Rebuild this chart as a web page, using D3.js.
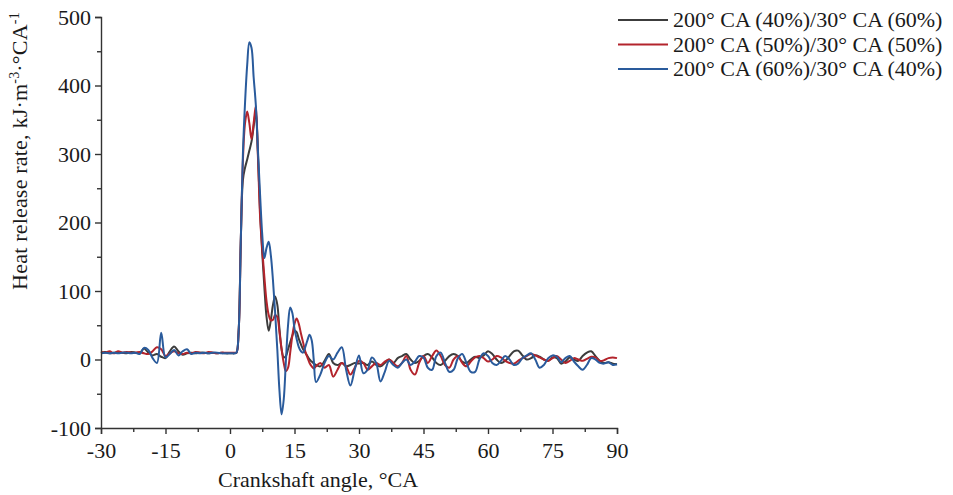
<!DOCTYPE html>
<html>
<head>
<meta charset="utf-8">
<script src="https://cdn.jsdelivr.net/npm/d3@7"></script>
<style>
  body { margin: 0; background: #fff; }
  svg text { font-family: "Liberation Serif", "Times New Roman", serif; fill: #1a1a1a; }
</style>
</head>
<body>
<div id="chart"></div>
<script>
// sampling grid (°CA): 1° steps, 0.5° steps through combustion
const angles = [].concat(d3.range(-30, 0.5, 1), d3.range(0.5, 20.25, 0.5), d3.range(21, 90.5, 1));

const seriesNames = ['200° CA (40%)/30° CA (60%)', '200° CA (50%)/30° CA (50%)', '200° CA (60%)/30° CA (40%)'];
const seriesColors = ['#3c3c3c', '#b3242c', '#2a5b9c'];

// heat release rate, kJ·m-3·°CA-1
const hrr40 = [
  10, 11, 9, 10, 11, 10, 9, 11, 10, 9, 16, 10, 6, 8, 4, 2, 12, 19, 12, 7, 9, 10, 9, 10, 10, 9, 10, 9, 10, 9, 9,
  9, 9, 10, 40, 170, 262, 280, 292, 305, 318, 340, 362, 300, 215, 155, 105, 62, 42, 58, 80,
  92, 80, 45, 15, 3, 5, 15, 25, 35, 42, 40, 30, 22, 15, 10, 5, 0, -3, -6, -8,
  -10, -2, 8, -5, -8, -5, -10, -8, -5, -6, -5, -8, -3, -8, -10, -5, 0, -5, 2, 5,
  8, 0, -5, -2, 5, 8, 3, -5, -8, -2, 5, 8, 5, -3, -5, 0, 4, 2, 6, 12,
  8, 0, -5, -2, 5, 12, 13, 6, 0, 2, 6, 4, 0, -2, 3, 2, -6, -3, 3, 0,
  -2, 5, 10, 12, 5, -2, -5, -4, -6, -7
];
const hrr50 = [
  11, 10, 12, 9, 12, 10, 11, 10, 10, 11, 9, 8, 12, 18, 15, 5, 9, 12, 9, 8, 10, 9, 11, 10, 9, 11, 10, 9, 10, 10, 10,
  10, 10, 10, 40, 170, 290, 345, 362, 345, 322, 345, 370, 295, 208, 160, 120, 85, 65, 57, 58,
  65, 62, 40, 15, -5, -17, -12, 10, 35, 52, 60, 52, 38, 25, 12, 3, -5, -10, -13, -10,
  -5, -12, -8, -25, -15, -5, -10, -22, -12, -2, -5, -15, -10, -5, -8, -3, 0, -5, -10, -5,
  5, -15, -22, -5, 5, -5, 5, 13, 5, -8, -12, 0, 5, -5, -10, -3, 3, 5, 2, -3,
  0, 5, 3, -2, -5, -6, -2, 2, 5, 8, 6, 3, 0, -2, 2, 5, 0, -5, -2, 2,
  0, -2, 1, 4, 3, -2, -1, 2, 3, 2
];
const hrr60 = [
  9, 10, 9, 10, 9, 10, 10, 9, 10, 8, 17, 14, 2, -5, 39, 3, 8, 14, 6, 12, 15, 8, 10, 9, 10, 9, 10, 10, 9, 9, 9,
  9, 9, 10, 40, 170, 300, 375, 430, 463, 455, 412, 372, 305, 240, 182, 148, 163, 172, 152, 115,
  68, 15, -45, -80, -58, -2, 50, 76, 68, 45, 30, 18, 12, 10, 18, 28, 36, 28, -2, -33,
  -22, -5, 5, 0, 10, 18, -15, -38, -15, 6, -20, -15, 3, -5, -32, -18, -2, -8, -12, -5,
  0, -8, -3, 5, 3, -12, -15, 5, 10, -5, -18, -15, 2, 8, -5, -18, -18, 0, 9, 5,
  -5, -8, -2, 5, 0, -8, -6, 2, 6, 9, 0, -12, -8, 2, 6, 4, -4, 2, 5, -3,
  -10, -15, -8, 2, 0, -5, -6, -4, -8, -7
];
const seriesValues = [hrr40, hrr50, hrr60];

const xTicks = [-30, -15, 0, 15, 30, 45, 60, 75, 90];
const yTicks = [-100, 0, 100, 200, 300, 400, 500];

const W = 953, H = 495;
const svg = d3.select('#chart').append('svg').attr('width', W).attr('height', H);

const x = d3.scaleLinear().domain([-30, 90]).range([101, 617]);
const y = d3.scaleLinear().domain([-100, 500]).range([428, 17]);

// Lines
const line = d3.line().x(d => x(d[0])).y(d => y(d[1])).curve(d3.curveCatmullRom.alpha(0.5));
seriesValues.forEach((vals, i) => {
  svg.append('path').datum(angles.map((a, k) => [a, vals[k]]))
    .attr('fill', 'none').attr('stroke', seriesColors[i]).attr('stroke-width', 2)
    .attr('stroke-linejoin', 'round').attr('d', line);
});

// Axes
const axisColor = '#333';
const xMinor = d3.range(-30, 90.1, 7.5).filter(v => !xTicks.includes(v));
const yMinor = d3.range(-100, 500.1, 50).filter(v => !yTicks.includes(v));

const gx = svg.append('g').attr('transform', `translate(0,${y(-100)})`);
gx.call(d3.axisBottom(x).tickValues(xTicks).tickSize(6).tickPadding(8).tickFormat(d => String(d)));
gx.append('g').call(d3.axisBottom(x).tickValues(xMinor).tickSize(4).tickFormat(''))
  .select('.domain').remove();

const gy = svg.append('g').attr('transform', `translate(${x(-30)},0)`);
gy.call(d3.axisLeft(y).tickValues(yTicks).tickSize(6).tickPadding(4).tickFormat(d => String(d)));
gy.append('g').call(d3.axisLeft(y).tickValues(yMinor).tickSize(4).tickFormat(''))
  .select('.domain').remove();

svg.selectAll('.domain').attr('stroke', axisColor).attr('stroke-width', 1.4);
svg.selectAll('.tick line').attr('stroke', axisColor).attr('stroke-width', 1.4);
svg.selectAll('.tick text').style('font-family', '"Liberation Serif", serif').style('font-size', '22px').attr('fill', '#1a1a1a');

// Axis titles
svg.append('text').attr('x', 318).attr('y', 487).attr('text-anchor', 'middle')
  .style('font-size', '22px').text('Crankshaft angle, °CA');

const yt = svg.append('text').attr('transform', 'translate(27,151) rotate(-90)')
  .attr('text-anchor', 'middle').style('font-size', '22px').style('letter-spacing', '0.2px');
yt.append('tspan').text('Heat release rate, kJ·m');
yt.append('tspan').attr('dy', -8).style('font-size', '14px').text('-3');
yt.append('tspan').attr('dy', 8).text('·°CA');
yt.append('tspan').attr('dy', -8).style('font-size', '14px').text('-1');

// Legend
const legend = svg.append('g');
seriesNames.forEach((name, i) => {
  const ly = 20 + i * 24.5;
  legend.append('line').attr('x1', 618).attr('x2', 668).attr('y1', ly).attr('y2', ly)
    .attr('stroke', seriesColors[i]).attr('stroke-width', 1.8);
  legend.append('text').attr('x', 673).attr('y', ly + 7).style('font-size', '22px').text(name);
});
</script>
</body>
</html>
